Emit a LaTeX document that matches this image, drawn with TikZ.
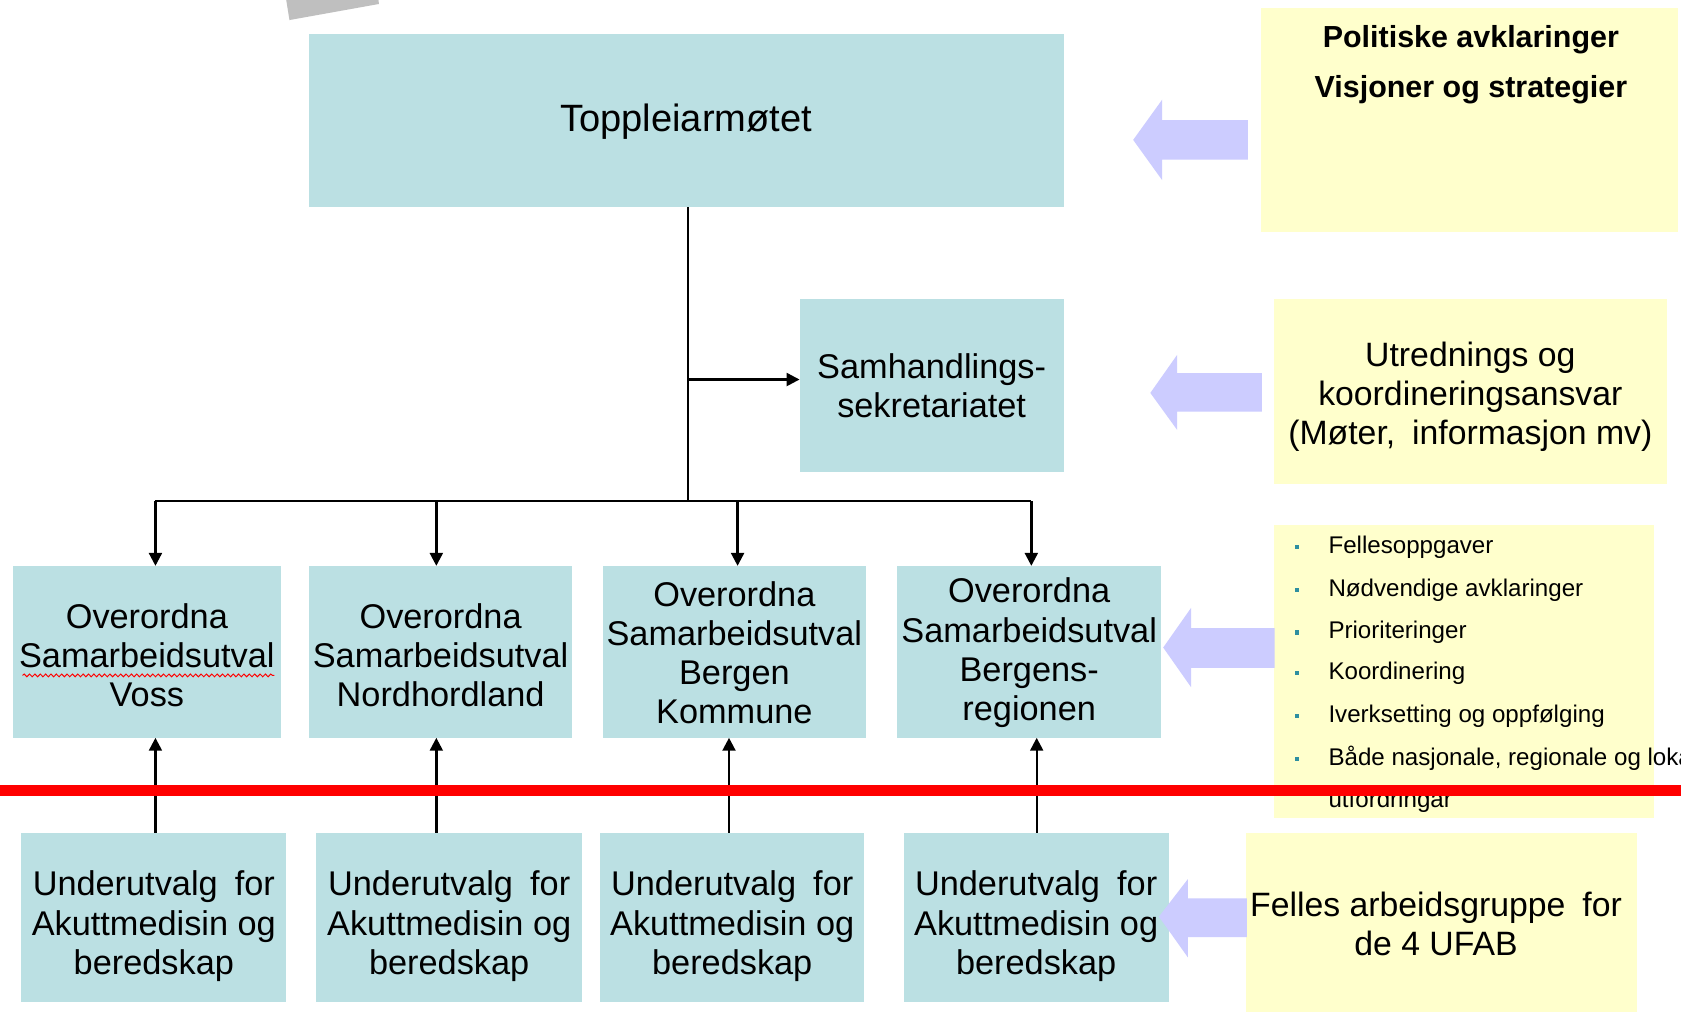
\documentclass[tikz,border=0pt]{standalone}
\usepackage{fontspec}
\setmainfont{Liberation Sans}
\usetikzlibrary{arrows.meta,calc,decorations.pathmorphing}
\definecolor{boxteal}{HTML}{BBE0E3}
\definecolor{boxyellow}{HTML}{FFFFCC}
\definecolor{arrowblue}{HTML}{CCCCFF}
\definecolor{bulletcol}{HTML}{2E8FA0}
\definecolor{tabgray}{HTML}{BFBFBF}
\newcommand\mytopstrut[1]{\rule{0pt}{#1}}
\begin{document}
\begin{tikzpicture}[x=1pt,y=-1pt,
  tbox/.style={fill=boxteal, inner sep=0pt, align=center, font=\fontsize{32}{36.5}\selectfont},
  ybox/.style={fill=boxyellow, inner sep=0pt, align=center, font=\fontsize{31.5}{36.5}\selectfont},
  conn/.style={line width=2.2pt, -{Triangle[length=12pt,width=12pt]}},
  plainline/.style={line width=2.2pt},
  bigarrow/.style={fill=arrowblue},
  bultext/.style={anchor=base west, inner sep=0pt, font=\fontsize{22.5}{26}\selectfont},
  bulsq/.style={fill=bulletcol, minimum size=4pt, inner sep=0pt},
  ytitle/.style={inner sep=0pt, font=\fontsize{28.4}{32}\selectfont\bfseries},
]
\useasboundingbox (0,0) rectangle (1568,946);
\clip (0,0) rectangle (1568,946);
\fill[white] (0,0) rectangle (1568,946);

% grey tab at top
\fill[tabgray] (267,0) -- (353,0) -- (353.5,3.7) -- (270,18.7) -- cycle;

% teal boxes
\node[tbox, minimum width=704pt, minimum height=161pt, font=\fontsize{35.5}{40}\selectfont] (top) at (640,112.5) {\mytopstrut{28pt}Toppleiarmøtet};
\node[tbox, minimum width=246pt, minimum height=161pt] (sam) at (869,359.5) {Samhandlings-\\sekretariatet};

\node[tbox, minimum width=250pt, minimum height=160pt] (o1) at (137,608) {\mytopstrut{30pt}Overordna\\Samarbeidsutval\\Voss};
\node[tbox, minimum width=246pt, minimum height=160pt] (o2) at (411,608) {\mytopstrut{29pt}Overordna\\Samarbeidsutval\\Nordhordland};
\node[tbox, minimum width=246pt, minimum height=160pt] (o3) at (685,608) {\mytopstrut{25pt}Overordna\\Samarbeidsutval\\Bergen\\Kommune};
\node[tbox, minimum width=246pt, minimum height=160pt] (o4) at (960,608) {\mytopstrut{25pt}Overordna\\Samarbeidsutval\\Bergens-\\regionen};

\node[tbox, minimum width=247pt, minimum height=158pt] (u1) at (143.5,856) {\mytopstrut{39pt}Underutvalg\enspace for\\Akuttmedisin og\\beredskap};
\node[tbox, minimum width=248pt, minimum height=158pt] (u2) at (419,856) {\mytopstrut{39pt}Underutvalg\enspace for\\Akuttmedisin og\\beredskap};
\node[tbox, minimum width=246pt, minimum height=158pt] (u3) at (683,856) {\mytopstrut{39pt}Underutvalg\enspace for\\Akuttmedisin og\\beredskap};
\node[tbox, minimum width=247pt, minimum height=158pt] (u4) at (966.5,856) {\mytopstrut{39pt}Underutvalg\enspace for\\Akuttmedisin og\\beredskap};

% yellow boxes
\node[ybox, minimum width=389pt, minimum height=209pt] (y1) at (1370.5,111.5) {};
\node[ytitle] (y1a) at (1372,37) {Politiske avklaringer};
\node[ytitle] (y1b) at (1372,84) {Visjoner og strategier};
\node[ybox, minimum width=367pt, minimum height=172pt] (y2) at (1371.5,365) {\mytopstrut{33pt}Utrednings og\\koordineringsansvar\\(Møter,\enspace informasjon mv)};
\node[ybox, minimum width=355pt, minimum height=273pt] (y3) at (1365.5,626.5) {};
\node[ybox, minimum width=365pt, minimum height=167pt] (y4) at (1344.5,860.5) {\mytopstrut{26pt}Felles arbeidsgruppe\enspace for\hspace*{10pt}\\de 4 UFAB\hspace*{10pt}};

% bullet list
\foreach \i/\yy/\t in {1/508/Fellesoppgaver, 2/548/Nødvendige avklaringer, 3/588/Prioriteringer, 4/626/Koordinering, 5/666/Iverksetting og oppfølging, 6/706/{Både nasjonale, regionale og lokale}} {
  \node[bulsq] (bs\i) at (1210,\yy+2) {};
  \node[bultext] (bt\i) at (1239,\yy+8) {\t};
}
\node[bultext] (bt7) at (1239,753) {utfordringar};

% connectors
\coordinate (bus) at (642,467.5);
\coordinate (br) at (642,354);
\draw[plainline] ($(top.south)+(2,0)$) -- (bus);
\draw[conn] (br) -- (br -| sam.west);
\path ($(o1.north)+(8,0)$) coordinate (d1) ($(o2.north)+(-4,0)$) coordinate (d2)
      ($(o3.north)+(3,0)$) coordinate (d3) ($(o4.north)+(2,0)$) coordinate (d4);
\draw[plainline] (d1 |- bus) -- (d4 |- bus);
\foreach \k in {1,2,3,4} \draw[conn] (d\k |- bus) -- (d\k);

\path ($(u1.north)+(1.5,0)$) coordinate (a1) ($(u2.north)+(-12,0)$) coordinate (a2)
      ($(u3.north)+(-3,0)$) coordinate (a3) ($(u4.north)+(0.5,0)$) coordinate (a4);
\draw[conn] (a1) -- (a1 |- o1.south);
\draw[conn] (a2) -- (a2 |- o2.south);
\draw[conn] (a3) -- (a3 |- o3.south);
\draw[conn] (a4) -- (a4 |- o4.south);

% big block arrows
\fill[bigarrow] (1057,130.5) -- (1084,93) -- (1084,112) -- (1164,112) -- (1164,149) -- (1084,149) -- (1084,168) -- cycle;
\fill[bigarrow] (1073,366.5) -- (1098,331) -- (1098,348) -- (1177,348) -- (1177,384) -- (1098,384) -- (1098,401) -- cycle;
\fill[bigarrow] (1085,604) -- (1111,567) -- (1111,586) -- (1189,586) -- (1189,623) -- (1111,623) -- (1111,641) -- cycle;
\fill[bigarrow] (1081,855) -- (1108,820) -- (1108,838) -- (1163,838) -- (1163,874) -- (1108,874) -- (1108,893) -- cycle;

% spell-check squiggle
\draw[red, line width=0.9pt, decorate, decoration={snake, amplitude=1.3pt, segment length=5pt}] (21,630) -- (256,630);

% red line
\draw[red, line width=10pt] (0,737.5) -- (1568,737.5);
\end{tikzpicture}
\end{document}
